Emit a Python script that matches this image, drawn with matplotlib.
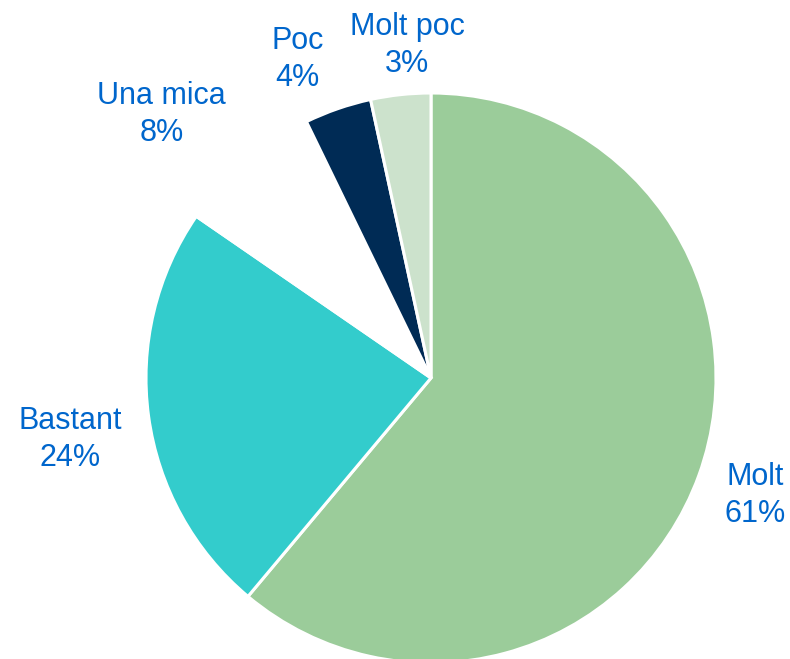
import numpy as np
import matplotlib
matplotlib.use("Agg")
import matplotlib.pyplot as plt

categories = ["Molt", "Bastant", "Una mica", "Poc", "Molt poc"]
values = [61.1, 23.5, 8.2, 3.8, 3.4]
pct_labels = ["61%", "24%", "8%", "4%", "3%"]

colors = ["#9BCC9A", "#33CCCC", "#FFFFFF", "#002B55", "#CCE2CC"]
# label placement (distance factor, angle offset in degrees) of the last-line baseline
label_place = [(1.2446, -3.92), (1.3025, 5.93), (1.2587, 7.97), (1.126, 5.44), (1.078, -1.64)]

plt.rcParams['font.family'] = ['Liberation Sans', 'DejaVu Sans']

W, H = 790, 659
fig = plt.figure(figsize=(W / 100, H / 100), dpi=100)
cx, cy, R = 431, 378, 285
ax = fig.add_axes([(cx - R) / W, (H - cy - R) / H, 2 * R / W, 2 * R / H])

wedges, _ = ax.pie(values, colors=colors, startangle=90, counterclock=False,
                   radius=1.0,
                   wedgeprops=dict(edgecolor="white", linewidth=2.2))
ax.set_xlim(-1, 1)
ax.set_ylim(-1, 1)
ax.set_aspect("equal")
ax.set_axis_off()

for w, cat, pct, (d, off) in zip(wedges, categories, pct_labels, label_place):
    mid = np.deg2rad((w.theta1 + w.theta2) / 2 + off)
    ax.text(d * np.cos(mid), d * np.sin(mid), f"{cat}\n{pct}",
            ha="center", va="baseline", fontsize=22, color="#0066CC",
            linespacing=1.29, clip_on=False)

fig.savefig("out.png", dpi=100)
